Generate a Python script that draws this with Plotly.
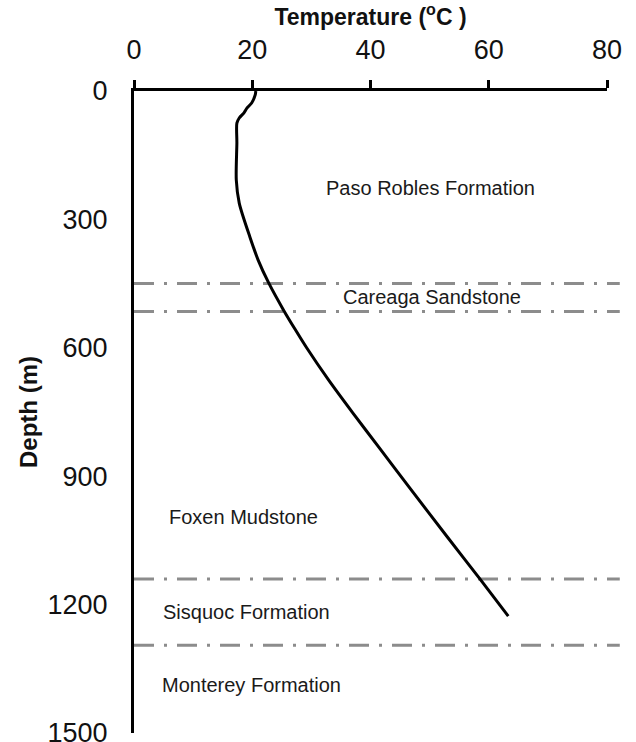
import plotly.graph_objects as go

# Temperature profile
depth_m = [0, 9, 28, 40, 51, 63, 75, 121, 208, 262, 341, 395, 449, 512, 558,
           600, 675, 752, 832, 925, 1042, 1140, 1227]
temp_c = [20.6, 20.5, 19.9, 19.1, 18.6, 17.8, 17.4, 17.4, 17.3, 17.8, 19.6,
          21.0, 22.8, 25.3, 27.3, 29.2, 32.9, 37.0, 41.4, 46.5, 53.0, 58.5, 63.3]

# Formation boundaries (depth, m)
boundary_depths = [450, 515, 1140, 1295]

# Formation labels
formation_names = ["Paso Robles Formation", "Careaga Sandstone", "Foxen Mudstone",
                   "Sisquoc Formation", "Monterey Formation"]
formation_label_temp = [50.1, 50.4, 18.5, 19.1, 19.9]
formation_label_depth = [227, 481, 995, 1217, 1388]

x_ticks = [0, 20, 40, 60, 80]
y_ticks = [0, 300, 600, 900, 1200, 1500]

FONT = "Liberation Sans, Arial, sans-serif"

fig = go.Figure()
fig.add_trace(go.Scatter(
    x=temp_c, y=depth_m, mode="lines",
    line=dict(color="black", width=3, shape="spline", smoothing=0.8),
    showlegend=False, hoverinfo="x+y",
))

for d in boundary_depths:
    fig.add_shape(type="line", xref="paper", yref="y", x0=0, x1=1.027, y0=d, y1=d,
                  line=dict(color="#8c8c8c", width=3, dash="20px,10px,3px,10px"),
                  layer="below")

for name, t, d in zip(formation_names, formation_label_temp, formation_label_depth):
    fig.add_annotation(x=t, y=d, text=name, showarrow=False,
                       font=dict(family=FONT, size=20, color="#1a1a1a"))

fig.update_layout(
    width=636, height=742,
    margin=dict(l=134, r=29, t=91, b=9, autoexpand=False),
    paper_bgcolor="white", plot_bgcolor="white",
    font=dict(family=FONT, color="#111111"),
    xaxis=dict(
        side="top", range=[0, 80], tickvals=x_ticks, showgrid=False, zeroline=False,
        automargin=False,
        showline=True, linecolor="black", linewidth=3,
        ticks="outside", ticklen=8, tickwidth=3, tickcolor="black",
        ticklabelstandoff=10,
        tickfont=dict(family=FONT, size=27, color="#111111"),
        title=dict(text="<b>Temperature (<sup>o</sup>C )</b>", standoff=10,
                   font=dict(family=FONT, size=23, color="#111111")),
    ),
    yaxis=dict(
        range=[1500, 0], tickvals=y_ticks, showgrid=False, zeroline=False,
        automargin=False,
        showline=True, linecolor="black", linewidth=3, ticks="",
        ticklabelstandoff=18, ticklabeloverflow="allow",
        tickfont=dict(family=FONT, size=27, color="#111111"),
        title=dict(text="<b>Depth (m)</b>", standoff=4,
                   font=dict(family=FONT, size=24, color="#111111")),
    ),
)

fig.write_html("out.html")
